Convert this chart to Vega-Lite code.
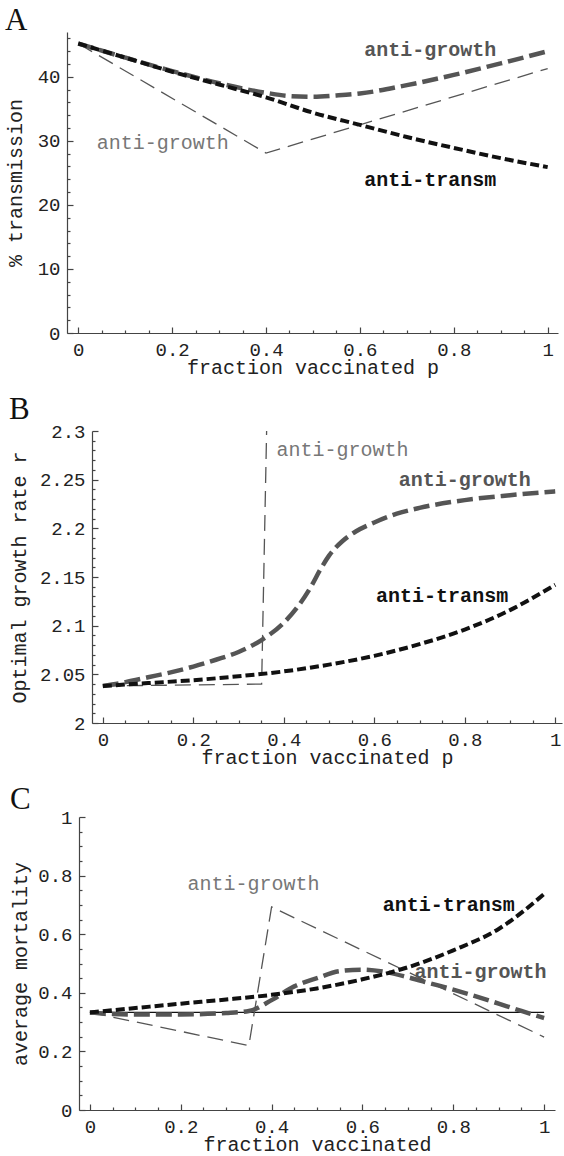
{
  "$schema": "https://vega.github.io/schema/vega-lite/v6.json",
  "padding": {"left": 5, "top": 5, "right": 0, "bottom": 0},
  "spacing": 17,
  "columns": 1,
  "background": "white",
  "config": {
    "view": {"stroke": null},
    "axis": {
      "labelFont": "Liberation Mono", "titleFont": "Liberation Mono",
      "labelFontSize": 19, "titleFontSize": 20, "titleFontWeight": "normal",
      "labelColor": "#222", "titleColor": "#222", "domainColor": "#444", "tickColor": "#444",
      "domainWidth": 1.2, "tickWidth": 1.2,
      "grid": false, "tickSize": -6, "labelPadding": 13, "labelFlush": false, "labelOverlap": false
    },
    "title": {"font": "Liberation Serif", "fontSize": 31, "fontWeight": "normal", "anchor": "start", "frame": "bounds", "baseline": "alphabetic", "color": "#111"},
    "text": {"font": "Liberation Mono", "fontSize": 20, "align": "center", "baseline": "middle"}
  },
  "datasets": {
    "A": [
      {"s": "transm", "p": 0, "v": 45.2}, {"s": "transm", "p": 0.1, "v": 43.0}, {"s": "transm", "p": 0.2, "v": 40.8}, {"s": "transm", "p": 0.3, "v": 38.8}, {"s": "transm", "p": 0.4, "v": 36.8}, {"s": "transm", "p": 0.5, "v": 34.4}, {"s": "transm", "p": 0.6, "v": 32.5}, {"s": "transm", "p": 0.7, "v": 30.6}, {"s": "transm", "p": 0.8, "v": 28.9}, {"s": "transm", "p": 0.9, "v": 27.3}, {"s": "transm", "p": 1, "v": 25.9},
      {"s": "grow", "p": 0, "v": 45.2}, {"s": "grow", "p": 0.1, "v": 43.0}, {"s": "grow", "p": 0.2, "v": 40.9}, {"s": "grow", "p": 0.3, "v": 39.0}, {"s": "grow", "p": 0.4, "v": 37.5}, {"s": "grow", "p": 0.45, "v": 37.0}, {"s": "grow", "p": 0.5, "v": 36.9}, {"s": "grow", "p": 0.55, "v": 37.1}, {"s": "grow", "p": 0.6, "v": 37.4}, {"s": "grow", "p": 0.7, "v": 38.7}, {"s": "grow", "p": 0.8, "v": 40.3}, {"s": "grow", "p": 0.9, "v": 42.1}, {"s": "grow", "p": 1, "v": 44.0},
      {"s": "thin", "p": 0, "v": 45.2}, {"s": "thin", "p": 0.4, "v": 28.1}, {"s": "thin", "p": 1, "v": 41.3},
      {"k": "bg", "p": 0.75, "v": 44.2, "t": "anti-growth"},
      {"k": "bb", "p": 0.75, "v": 23.9, "t": "anti-transm"},
      {"k": "tg", "p": 0.18, "v": 29.7, "t": "anti-growth"}
    ],
    "B": [
      {"s": "transm", "p": 0, "v": 2.038}, {"s": "transm", "p": 0.1, "v": 2.041}, {"s": "transm", "p": 0.2, "v": 2.044}, {"s": "transm", "p": 0.3, "v": 2.048}, {"s": "transm", "p": 0.4, "v": 2.053}, {"s": "transm", "p": 0.5, "v": 2.060}, {"s": "transm", "p": 0.6, "v": 2.069}, {"s": "transm", "p": 0.7, "v": 2.081}, {"s": "transm", "p": 0.8, "v": 2.096}, {"s": "transm", "p": 0.9, "v": 2.116}, {"s": "transm", "p": 1, "v": 2.142},
      {"s": "grow", "p": 0, "v": 2.038}, {"s": "grow", "p": 0.05, "v": 2.042}, {"s": "grow", "p": 0.1, "v": 2.047}, {"s": "grow", "p": 0.15, "v": 2.052}, {"s": "grow", "p": 0.2, "v": 2.058}, {"s": "grow", "p": 0.25, "v": 2.065}, {"s": "grow", "p": 0.3, "v": 2.073}, {"s": "grow", "p": 0.35, "v": 2.085}, {"s": "grow", "p": 0.4, "v": 2.103}, {"s": "grow", "p": 0.43, "v": 2.119}, {"s": "grow", "p": 0.46, "v": 2.140}, {"s": "grow", "p": 0.48, "v": 2.157}, {"s": "grow", "p": 0.5, "v": 2.172}, {"s": "grow", "p": 0.53, "v": 2.187}, {"s": "grow", "p": 0.56, "v": 2.197}, {"s": "grow", "p": 0.6, "v": 2.206}, {"s": "grow", "p": 0.65, "v": 2.215}, {"s": "grow", "p": 0.7, "v": 2.221}, {"s": "grow", "p": 0.8, "v": 2.229}, {"s": "grow", "p": 0.9, "v": 2.234}, {"s": "grow", "p": 1, "v": 2.238},
      {"s": "thin", "p": 0, "v": 2.038}, {"s": "thin", "p": 0.351, "v": 2.04}, {"s": "thin", "p": 0.362, "v": 2.3},
      {"k": "tg", "p": 0.53, "v": 2.28, "t": "anti-growth"},
      {"k": "bg", "p": 0.80, "v": 2.25, "t": "anti-growth"},
      {"k": "bb", "p": 0.75, "v": 2.13, "t": "anti-transm"}
    ],
    "C": [
      {"s": "base", "p": 0, "v": 0.3333}, {"s": "base", "p": 1, "v": 0.3333},
      {"s": "transm", "p": 0, "v": 0.333}, {"s": "transm", "p": 0.1, "v": 0.348}, {"s": "transm", "p": 0.2, "v": 0.363}, {"s": "transm", "p": 0.3, "v": 0.377}, {"s": "transm", "p": 0.4, "v": 0.393}, {"s": "transm", "p": 0.5, "v": 0.415}, {"s": "transm", "p": 0.6, "v": 0.446}, {"s": "transm", "p": 0.7, "v": 0.487}, {"s": "transm", "p": 0.8, "v": 0.545}, {"s": "transm", "p": 0.9, "v": 0.618}, {"s": "transm", "p": 1, "v": 0.737},
      {"s": "grow", "p": 0, "v": 0.333}, {"s": "grow", "p": 0.05, "v": 0.328}, {"s": "grow", "p": 0.1, "v": 0.326}, {"s": "grow", "p": 0.2, "v": 0.326}, {"s": "grow", "p": 0.3, "v": 0.331}, {"s": "grow", "p": 0.35, "v": 0.338}, {"s": "grow", "p": 0.4, "v": 0.375}, {"s": "grow", "p": 0.45, "v": 0.422}, {"s": "grow", "p": 0.5, "v": 0.45}, {"s": "grow", "p": 0.55, "v": 0.474}, {"s": "grow", "p": 0.6, "v": 0.479}, {"s": "grow", "p": 0.65, "v": 0.471}, {"s": "grow", "p": 0.7, "v": 0.453}, {"s": "grow", "p": 0.75, "v": 0.432}, {"s": "grow", "p": 0.8, "v": 0.411}, {"s": "grow", "p": 0.85, "v": 0.388}, {"s": "grow", "p": 0.9, "v": 0.363}, {"s": "grow", "p": 0.95, "v": 0.338}, {"s": "grow", "p": 1, "v": 0.314},
      {"s": "thin", "p": 0, "v": 0.333}, {"s": "thin", "p": 0.35, "v": 0.22}, {"s": "thin", "p": 0.4, "v": 0.693}, {"s": "thin", "p": 1, "v": 0.249},
      {"k": "tg", "p": 0.36, "v": 0.77, "t": "anti-growth"},
      {"k": "bb", "p": 0.79, "v": 0.70, "t": "anti-transm"},
      {"k": "bg", "p": 0.86, "v": 0.47, "t": "anti-growth"}
    ]
  },
  "concat": [
    {
      "width": 491, "height": 301,
      "title": {"text": "A", "offset": -5},
      "data": {"name": "A"},
      "resolve": {"axis": {"x": "independent", "y": "independent"}},
      "encoding": {
        "x": {"field": "p", "type": "quantitative", "scale": {"domain": [-0.024, 1.022], "nice": false, "zero": false}, "axis": null},
        "y": {"field": "v", "type": "quantitative", "scale": {"domain": [0, 47], "nice": false, "zero": false}, "axis": null}
      },
      "layer": [
        {"mark": {"type": "point", "opacity": 0}, "encoding": {
          "x": {"field": "p", "type": "quantitative", "scale": {"domain": [-0.024, 1.022], "nice": false, "zero": false},
                "axis": {"orient": "bottom", "values": [0, 0.2, 0.4, 0.6, 0.8, 1], "labelExpr": "'' + datum.value", "title": "fraction vaccinated p", "titlePadding": -2}},
          "y": {"field": "v", "type": "quantitative", "scale": {"domain": [0, 47], "nice": false, "zero": false},
                "axis": {"orient": "left", "values": [0, 10, 20, 30, 40], "labelExpr": "'' + datum.value", "title": "% transmission", "minExtent": 32, "maxExtent": 32, "titlePadding": 10}}}},
        {"mark": {"type": "point", "opacity": 0}, "encoding": {
          "x": {"field": "p", "type": "quantitative", "scale": {"domain": [-0.024, 1.022], "nice": false, "zero": false},
                "axis": {"orient": "bottom", "values": [0.05, 0.1, 0.15, 0.25, 0.3, 0.35, 0.45, 0.5, 0.55, 0.65, 0.7, 0.75, 0.85, 0.9, 0.95], "labels": false, "domain": false, "title": null, "tickSize": -3}},
          "y": {"field": "v", "type": "quantitative", "scale": {"domain": [0, 47], "nice": false, "zero": false},
                "axis": {"orient": "left", "values": [2, 4, 6, 8, 12, 14, 16, 18, 22, 24, 26, 28, 32, 34, 36, 38, 42, 44, 46], "labels": false, "domain": false, "title": null, "tickSize": -3}}}},
        {"transform": [{"filter": "datum.s === 'thin'"}], "mark": {"type": "line", "color": "#555", "strokeWidth": 1.3, "strokeDash": [16, 8]}},
        {"transform": [{"filter": "datum.s === 'grow'"}], "mark": {"type": "line", "color": "#555", "strokeWidth": 4.5, "strokeDash": [16, 6], "interpolate": "monotone"}},
        {"transform": [{"filter": "datum.s === 'transm'"}], "mark": {"type": "line", "color": "#111", "strokeWidth": 4, "strokeDash": [9, 4], "interpolate": "monotone"}},
        {"transform": [{"filter": "datum.k === 'tg'"}], "mark": {"type": "text", "color": "#777"}, "encoding": {"text": {"field": "t"}}},
        {"transform": [{"filter": "datum.k === 'bg'"}], "mark": {"type": "text", "color": "#555", "fontWeight": "bold"}, "encoding": {"text": {"field": "t"}}},
        {"transform": [{"filter": "datum.k === 'bb'"}], "mark": {"type": "text", "color": "#111", "fontWeight": "bold"}, "encoding": {"text": {"field": "t"}}}
      ]
    },
    {
      "width": 495, "height": 292,
      "title": {"text": "B", "offset": -4},
      "data": {"name": "B"},
      "resolve": {"axis": {"x": "independent", "y": "independent"}},
      "encoding": {
        "x": {"field": "p", "type": "quantitative", "scale": {"domain": [-0.024, 1.015], "range": [25, 495], "nice": false, "zero": false}, "axis": null},
        "y": {"field": "v", "type": "quantitative", "scale": {"domain": [2, 2.3], "nice": false, "zero": false}, "axis": null}
      },
      "layer": [
        {"mark": {"type": "point", "opacity": 0}, "encoding": {
          "x": {"field": "p", "type": "quantitative", "scale": {"domain": [-0.024, 1.015], "range": [25, 495], "nice": false, "zero": false},
                "axis": {"orient": "bottom", "values": [0, 0.2, 0.4, 0.6, 0.8, 1], "labelExpr": "'' + datum.value", "title": "fraction vaccinated p", "titlePadding": -2, "titleX": 260}},
          "y": {"field": "v", "type": "quantitative", "scale": {"domain": [2, 2.3], "nice": false, "zero": false},
                "axis": {"orient": "left", "offset": -25, "values": [2, 2.05, 2.1, 2.15, 2.2, 2.25, 2.3], "labelExpr": "'' + datum.value", "title": "Optimal growth rate r", "minExtent": 55, "maxExtent": 55, "titlePadding": 8}}}},
        {"mark": {"type": "point", "opacity": 0}, "encoding": {
          "x": {"field": "p", "type": "quantitative", "scale": {"domain": [-0.024, 1.015], "range": [25, 495], "nice": false, "zero": false},
                "axis": {"orient": "bottom", "values": [0.05, 0.1, 0.15, 0.25, 0.3, 0.35, 0.45, 0.5, 0.55, 0.65, 0.7, 0.75, 0.85, 0.9, 0.95], "labels": false, "domain": false, "title": null, "tickSize": -3}},
          "y": {"field": "v", "type": "quantitative", "scale": {"domain": [2, 2.3], "nice": false, "zero": false},
                "axis": {"orient": "left", "offset": -25, "values": [2.01, 2.02, 2.03, 2.04, 2.06, 2.07, 2.08, 2.09, 2.11, 2.12, 2.13, 2.14, 2.16, 2.17, 2.18, 2.19, 2.21, 2.22, 2.23, 2.24, 2.26, 2.27, 2.28, 2.29], "labels": false, "domain": false, "title": null, "tickSize": -3}}}},
        {"transform": [{"filter": "datum.s === 'thin'"}], "mark": {"type": "line", "color": "#555", "strokeWidth": 1.3, "strokeDash": [16, 8]}},
        {"transform": [{"filter": "datum.s === 'grow'"}], "mark": {"type": "line", "color": "#555", "strokeWidth": 4.5, "strokeDash": [16, 6], "interpolate": "monotone"}},
        {"transform": [{"filter": "datum.s === 'transm'"}], "mark": {"type": "line", "color": "#111", "strokeWidth": 4, "strokeDash": [9, 4], "interpolate": "monotone"}},
        {"transform": [{"filter": "datum.k === 'tg'"}], "mark": {"type": "text", "color": "#777"}, "encoding": {"text": {"field": "t"}}},
        {"transform": [{"filter": "datum.k === 'bg'"}], "mark": {"type": "text", "color": "#555", "fontWeight": "bold"}, "encoding": {"text": {"field": "t"}}},
        {"transform": [{"filter": "datum.k === 'bb'"}], "mark": {"type": "text", "color": "#111", "fontWeight": "bold"}, "encoding": {"text": {"field": "t"}}}
      ]
    },
    {
      "width": 488, "height": 293,
      "title": {"text": "C", "offset": -8},
      "data": {"name": "C"},
      "resolve": {"axis": {"x": "independent", "y": "independent"}},
      "encoding": {
        "x": {"field": "p", "type": "quantitative", "scale": {"domain": [-0.024, 1.024], "range": [12, 488], "nice": false, "zero": false}, "axis": null},
        "y": {"field": "v", "type": "quantitative", "scale": {"domain": [0, 1], "nice": false, "zero": false}, "axis": null}
      },
      "layer": [
        {"mark": {"type": "point", "opacity": 0}, "encoding": {
          "x": {"field": "p", "type": "quantitative", "scale": {"domain": [-0.024, 1.024], "range": [12, 488], "nice": false, "zero": false},
                "axis": {"orient": "bottom", "values": [0, 0.2, 0.4, 0.6, 0.8, 1], "labelExpr": "'' + datum.value", "title": "fraction vaccinated", "titlePadding": -2, "titleX": 250}},
          "y": {"field": "v", "type": "quantitative", "scale": {"domain": [0, 1], "nice": false, "zero": false},
                "axis": {"orient": "left", "offset": -12, "values": [0, 0.2, 0.4, 0.6, 0.8, 1], "labelExpr": "'' + datum.value", "title": "average mortality", "minExtent": 43, "maxExtent": 43, "titlePadding": 6}}}},
        {"mark": {"type": "point", "opacity": 0}, "encoding": {
          "x": {"field": "p", "type": "quantitative", "scale": {"domain": [-0.024, 1.024], "range": [12, 488], "nice": false, "zero": false},
                "axis": {"orient": "bottom", "values": [0.05, 0.1, 0.15, 0.25, 0.3, 0.35, 0.45, 0.5, 0.55, 0.65, 0.7, 0.75, 0.85, 0.9, 0.95], "labels": false, "domain": false, "title": null, "tickSize": -3}},
          "y": {"field": "v", "type": "quantitative", "scale": {"domain": [0, 1], "nice": false, "zero": false},
                "axis": {"orient": "left", "offset": -12, "values": [0.05, 0.1, 0.15, 0.25, 0.3, 0.35, 0.45, 0.5, 0.55, 0.65, 0.7, 0.75, 0.85, 0.9, 0.95], "labels": false, "domain": false, "title": null, "tickSize": -3}}}},
        {"transform": [{"filter": "datum.s === 'base'"}], "mark": {"type": "line", "color": "#111", "strokeWidth": 1.2}},
        {"transform": [{"filter": "datum.s === 'thin'"}], "mark": {"type": "line", "color": "#555", "strokeWidth": 1.3, "strokeDash": [16, 8]}},
        {"transform": [{"filter": "datum.s === 'grow'"}], "mark": {"type": "line", "color": "#555", "strokeWidth": 4.5, "strokeDash": [16, 6], "interpolate": "monotone"}},
        {"transform": [{"filter": "datum.s === 'transm'"}], "mark": {"type": "line", "color": "#111", "strokeWidth": 4, "strokeDash": [9, 4], "interpolate": "monotone"}},
        {"transform": [{"filter": "datum.k === 'tg'"}], "mark": {"type": "text", "color": "#777"}, "encoding": {"text": {"field": "t"}}},
        {"transform": [{"filter": "datum.k === 'bb'"}], "mark": {"type": "text", "color": "#111", "fontWeight": "bold"}, "encoding": {"text": {"field": "t"}}},
        {"transform": [{"filter": "datum.k === 'bg'"}], "mark": {"type": "text", "color": "#555", "fontWeight": "bold"}, "encoding": {"text": {"field": "t"}}}
      ]
    }
  ]
}
